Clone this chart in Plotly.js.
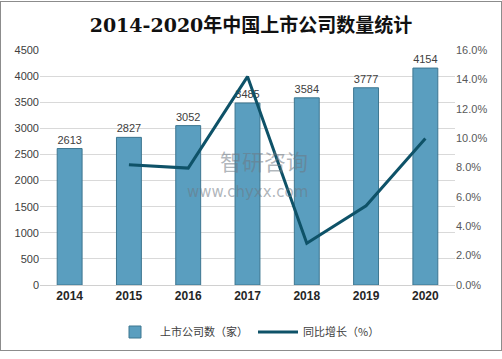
<!DOCTYPE html>
<html><head><meta charset="utf-8">
<script src="https://cdn.plot.ly/plotly-3.0.1.min.js"></script>
<style>
html,body{margin:0;padding:0;background:#fff;}
#frame{position:absolute;left:0;top:1px;width:500px;height:348px;border:1px solid #8c8c8c;}
#chart{position:absolute;left:0;top:0;width:502px;height:359px;}
</style></head>
<body>
<div id="frame"></div>
<div id="chart"></div>
<script>
const years = ['2014','2015','2016','2017','2018','2019','2020'];
const companies = [2613, 2827, 3052, 3485, 3584, 3777, 4154];
const growthYears = ['2015','2016','2017','2018','2019','2020'];
const growth = [0.0819, 0.0796, 0.1419, 0.0284, 0.0539, 0.0998];
const leftTicks = [0,500,1000,1500,2000,2500,3000,3500,4000,4500];
const rightTicks = [0,0.02,0.04,0.06,0.08,0.10,0.12,0.14,0.16];

const cjk = '"Microsoft YaHei","Noto Sans CJK SC",sans-serif';
const data = [
  {type:'bar', x:years, y:companies, name:'上市公司数（家）',
   marker:{color:'#5a9ebf', line:{color:'#3d7690', width:1}},
   width:0.42,
   text:companies.map(String), textposition:'outside', cliponaxis:false,
   textfont:{family:'"Liberation Sans",Arial,sans-serif', size:11, color:'#404040'}},
  {type:'scatter', mode:'lines', x:growthYears, y:growth, yaxis:'y2', name:'同比增长（%）',
   line:{color:'#0e5268', width:3}}
];
const layout = {
  width:502, height:359,
  paper_bgcolor:'rgba(0,0,0,0)', plot_bgcolor:'rgba(0,0,0,0)',
  margin:{l:40, r:47, t:50, b:69},
  title:{text:'<b>2014-2020年中国上市公司数量统计</b>', x:0.5, xanchor:'center', y:0.93, yanchor:'middle',
         font:{family:'"DejaVu Serif","Noto Sans CJK SC",serif', size:19, color:'#111'}},
  showlegend:true,
  legend:{orientation:'h', x:0.5, xanchor:'center', y:-0.2, yanchor:'middle',
          font:{family:cjk, size:11, color:'#404040'}, itemwidth:40, traceorder:'normal'},
  bargap:0.58,
  xaxis:{type:'category', tickfont:{family:'"Liberation Sans",Arial,sans-serif', size:12, color:'#262626', weight:'bold'},
         showgrid:false, showline:true, linecolor:'#d0d0d0', ticks:'', ticklen:0},
  yaxis:{range:[0,4500], tickvals:leftTicks, ticktext:leftTicks.map(String), showgrid:true, gridcolor:'#d9d9d9',
         zeroline:false, showline:false, ticks:'',
         tickfont:{family:'"Liberation Sans",Arial,sans-serif', size:11, color:'#404040'}},
  yaxis2:{overlaying:'y', side:'right', range:[0,0.16], tickvals:rightTicks,
          ticktext:rightTicks.map(v=>(v*100).toFixed(1)+'%'), showgrid:false, zeroline:false, showline:false,
          tickfont:{family:'"Liberation Sans",Arial,sans-serif', size:11, color:'#595959'}},
  annotations:[
    {xref:'paper', yref:'paper', x:0.54, y:0.53, yanchor:'middle', text:'智研咨询', showarrow:false,
     font:{family:cjk, size:22, color:'rgba(110,120,130,0.55)'}},
    {xref:'paper', yref:'paper', x:0.5, y:0.395, yanchor:'middle', text:'www.chyxx.com', showarrow:false,
     font:{family:'"DejaVu Sans",sans-serif', size:15, color:'rgba(110,120,130,0.55)'}}
  ]
};
Plotly.newPlot('chart', data, layout, {displayModeBar:false, staticPlot:true});
</script>
</body></html>
